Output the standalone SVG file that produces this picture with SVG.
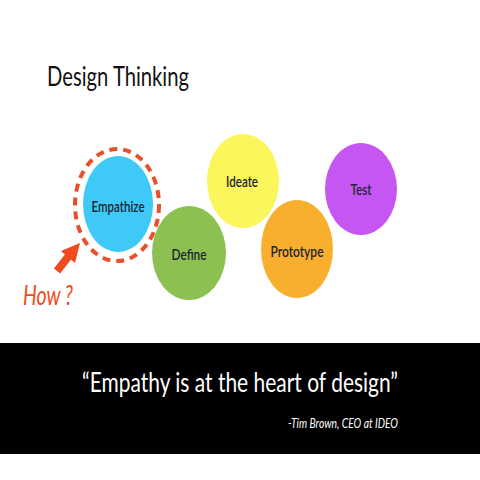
<svg xmlns="http://www.w3.org/2000/svg" width="480" height="480" viewBox="0 0 480 480">
<style>
.lbl{font-family:Lato,"Open Sans","DejaVu Sans",sans-serif;font-size:16px;font-weight:600;fill:#1b2533;text-anchor:middle}
.ttl{font-family:Lato,"Open Sans","DejaVu Sans",sans-serif;fill:#111}
</style>
<rect x="0" y="0" width="480" height="480" fill="#fff"/>
<text class="ttl" x="47" y="86" font-size="26" textLength="142" lengthAdjust="spacingAndGlyphs">Design Thinking</text>
<g id="connectors">
<ellipse cx="117" cy="205" rx="42" ry="56" fill="none" stroke="#E8502C" stroke-width="4" stroke-dasharray="8 6"/>
<polygon points="80,243 75,263 71.1,259.5 60.1,273.5 53.9,268.5 64.9,254.5 61,251" fill="#F04A1E"/>
</g>
<g id="empathize">
<ellipse cx="118" cy="204" rx="35" ry="48" fill="#3EC9F7"/>
<text class="lbl" x="118" y="212" textLength="53" lengthAdjust="spacingAndGlyphs">Empathize</text>
</g>
<g id="define">
<ellipse cx="189" cy="253" rx="37" ry="47" fill="#8CC152"/>
<text class="lbl" x="189" y="260" textLength="35" lengthAdjust="spacingAndGlyphs">Define</text>
</g>
<g id="ideate">
<ellipse cx="243" cy="181" rx="36" ry="47" fill="#FBF65B"/>
<text class="lbl" x="242" y="187" textLength="32" lengthAdjust="spacingAndGlyphs">Ideate</text>
</g>
<g id="prototype">
<ellipse cx="297" cy="249" rx="36" ry="49" fill="#F9AF2E"/>
<text class="lbl" x="297" y="257" textLength="53" lengthAdjust="spacingAndGlyphs">Prototype</text>
</g>
<g id="test">
<ellipse cx="361" cy="189" rx="36" ry="46" fill="#C656F1"/>
<text class="lbl" x="361" y="195" textLength="21" lengthAdjust="spacingAndGlyphs">Test</text>
</g>
<text x="23" y="305" font-family="Lato,'Open Sans',sans-serif" font-style="italic" font-size="27" fill="#F04A1E" textLength="50" lengthAdjust="spacingAndGlyphs">How ?</text>
<rect x="0" y="343" width="480" height="111" fill="#000"/>
<text x="82" y="392" font-family="Lato,'Open Sans',sans-serif" font-size="26" fill="#fff" textLength="316" lengthAdjust="spacingAndGlyphs">“Empathy is at the heart of design”</text>
<text x="288" y="428" font-family="Lato,'Open Sans',sans-serif" font-style="italic" font-size="14" fill="#fff" textLength="110" lengthAdjust="spacingAndGlyphs">-Tim Brown, CEO at IDEO</text>
</svg>
